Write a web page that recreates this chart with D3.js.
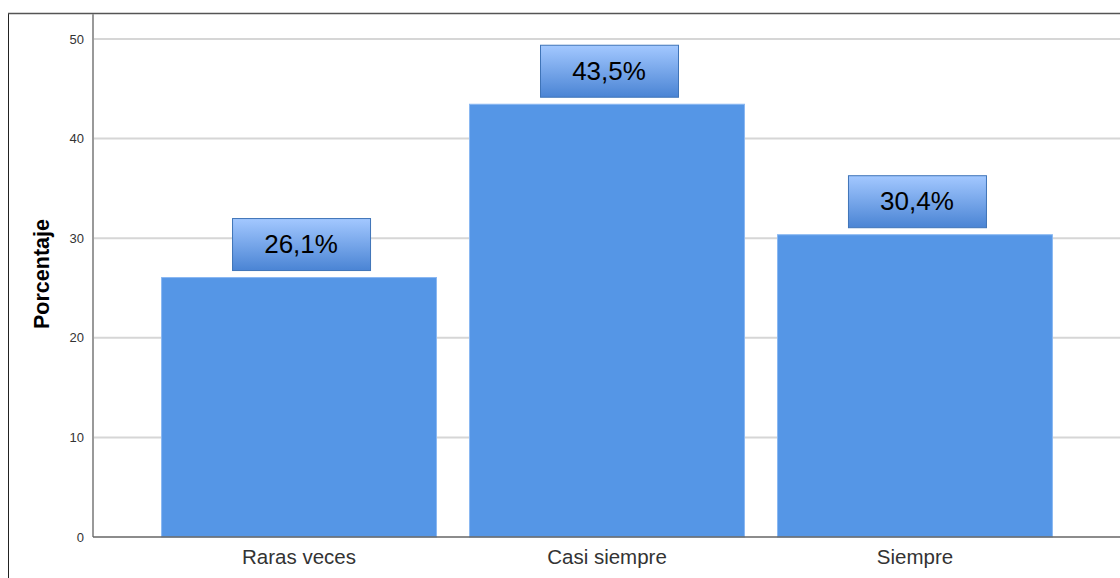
<!DOCTYPE html>
<html lang="es">
<head>
  <meta charset="UTF-8">
  <title>Porcentaje</title>
  <script src="https://d3js.org/d3.v7.min.js"></script>
  <style>
    body { margin: 0; background: #fff; font-family: Arial, "Liberation Sans", sans-serif; }
    svg { display: block; }
  </style>
</head>
<body>
  <svg id="chart" width="1120" height="578"></svg>
  <script>
    const categories = ["Raras veces", "Casi siempre", "Siempre"];
    const values = [26.1, 43.5, 30.4];
    const valueLabels = ["26,1%", "43,5%", "30,4%"];
    const yTicks = [0, 10, 20, 30, 40, 50];

    const svg = d3.select("#chart");
    const plotLeft = 93, plotRight = 1121, plotTop = 39, plotBottom = 537;

    const x = d3.scaleBand().domain(categories).range([plotLeft, plotRight])
      .paddingInner(0.104).paddingOuter(0.221);
    const y = d3.scaleLinear().domain([0, 50]).range([plotBottom, plotTop]);

    const defs = svg.append("defs");
    const grad = defs.append("linearGradient").attr("id", "boxGrad")
      .attr("x1", 0).attr("y1", 0).attr("x2", 0).attr("y2", 1);
    grad.append("stop").attr("offset", "0%").attr("stop-color", "#a3c8ff");
    grad.append("stop").attr("offset", "100%").attr("stop-color", "#4a84d4");

    // outer frame
    svg.append("line").attr("x1", 8.5).attr("x2", 8.5).attr("y1", 13).attr("y2", 578)
      .attr("stroke", "#222").attr("stroke-width", 1);
    svg.append("line").attr("x1", 8).attr("x2", 1120).attr("y1", 13.5).attr("y2", 13.5)
      .attr("stroke", "#555").attr("stroke-width", 1.5);

    // gridlines
    svg.append("g").selectAll("line").data(yTicks.filter(d => d > 0)).enter().append("line")
      .attr("x1", plotLeft).attr("x2", 1120)
      .attr("y1", d => y(d)).attr("y2", d => y(d))
      .attr("stroke", "#d6d6d6").attr("stroke-width", 2);

    // bars
    svg.append("g").selectAll("rect").data(values).enter().append("rect")
      .attr("x", (d, i) => x(categories[i]) + 0.5)
      .attr("y", d => y(d) + 0.5)
      .attr("width", x.bandwidth() - 1)
      .attr("height", d => plotBottom - y(d) - 0.5)
      .attr("fill", "#5596e6")
      .attr("stroke", "#8ab8f2").attr("stroke-width", 1);

    // y axis
    const yAxis = svg.append("g").attr("transform", `translate(${plotLeft},0)`)
      .call(d3.axisLeft(y).tickValues(yTicks).tickSize(0).tickPadding(9));
    yAxis.select(".domain").attr("stroke", "#999").attr("stroke-width", 2)
      .attr("d", `M0,14V${plotBottom}`);
    yAxis.selectAll("text").attr("font-size", "13px").attr("fill", "#333")
      .attr("font-family", "Arial, 'Liberation Sans', sans-serif");

    // x axis
    const xAxis = svg.append("g").attr("transform", `translate(0,${plotBottom})`)
      .call(d3.axisBottom(x).tickSize(0).tickPadding(12));
    xAxis.select(".domain").attr("stroke", "#666").attr("stroke-width", 1.5)
      .attr("d", `M${plotLeft},0H1120`);
    xAxis.selectAll("text").attr("font-size", "20.5px").attr("fill", "#333")
      .attr("font-family", "Arial, 'Liberation Sans', sans-serif");

    // y title
    svg.append("text")
      .attr("transform", `translate(49,274) rotate(-90)`)
      .attr("text-anchor", "middle")
      .attr("font-size", "21.5px").attr("font-weight", "bold").attr("fill", "#000")
      .text("Porcentaje");

    // value label boxes
    const boxW = 138, boxH = 52, gap = 7;
    const labels = svg.append("g").selectAll("g").data(values).enter().append("g")
      .attr("transform", (d, i) => `translate(${x(categories[i]) + x.bandwidth() / 2 + 2},${Math.max(y(d) - gap - boxH, 42)})`);
    labels.append("rect")
      .attr("x", -boxW / 2 + 0.5).attr("y", 0.5)
      .attr("width", boxW).attr("height", boxH)
      .attr("fill", "url(#boxGrad)")
      .attr("stroke", "#3f74b8").attr("stroke-width", 1);
    labels.append("text")
      .attr("x", 0).attr("y", boxH / 2 + 9)
      .attr("text-anchor", "middle")
      .attr("font-size", "26px").attr("fill", "#000")
      .text((d, i) => valueLabels[i]);
  </script>
</body>
</html>
